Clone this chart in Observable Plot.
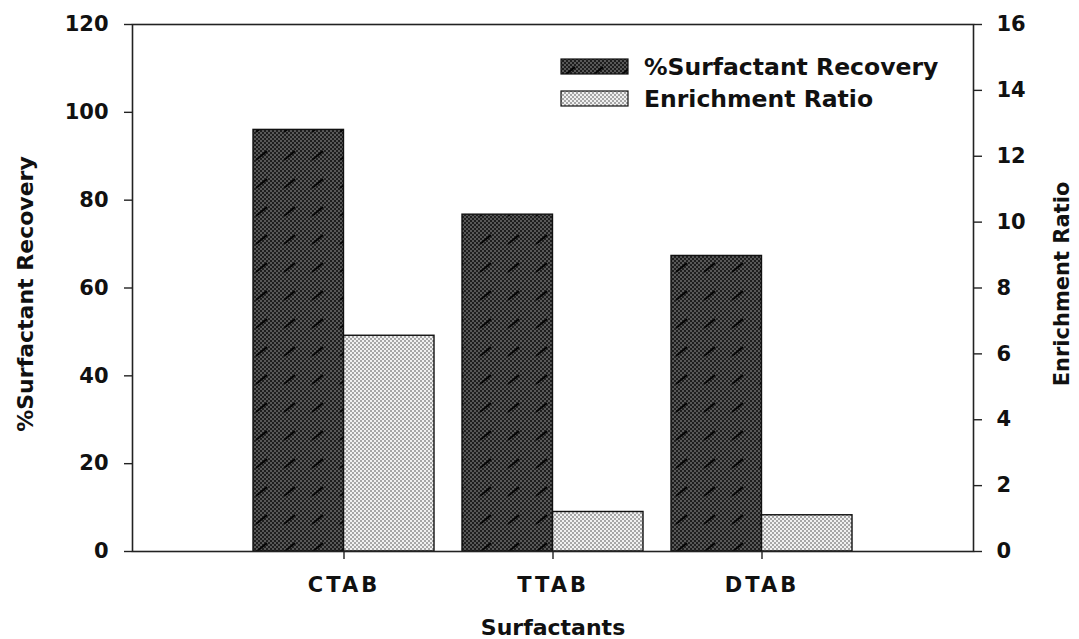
<!DOCTYPE html>
<html><head><meta charset="utf-8">
<script src="https://cdn.jsdelivr.net/npm/d3@7"></script>
<script src="https://cdn.jsdelivr.net/npm/@observablehq/plot@0.6"></script>
<style>
body{margin:0;background:#fff;}
#chart{position:relative;width:1079px;height:639px;}
</style>
</head><body><div id="chart"></div>
<script>
const categories = ["CTAB", "TTAB", "DTAB"];
const recovery = [96.0, 76.7, 67.3];
const enrichment = [6.55, 1.2, 1.1];
const leftTicks = [0, 20, 40, 60, 80, 100, 120];
const rightTicks = [0, 2, 4, 6, 8, 10, 12, 14, 16];
const seriesNames = ["%Surfactant Recovery", "Enrichment Ratio"];
const xTitle = "Surfactants";
const yLeftMax = 120, yRightMax = 16;
const ratio = yLeftMax / yRightMax;

const data = categories.map((c, i) => ({category: c, recovery: recovery[i], enrichment: enrichment[i]}));

const W = 1079, H = 639;
const mL = 132, mR = 106, mT = 24, mB = 88;
const pInner = 0.136, pOuter = 0.575;
const step = (W - mL - mR) / (categories.length - pInner + 2 * pOuter);
const half = step * (1 - pInner) / 2;
const FONT = "DejaVu Sans";

const chart = Plot.plot({
  width: W, height: H,
  marginLeft: mL, marginRight: mR, marginTop: mT, marginBottom: mB,
  style: {fontFamily: FONT, fontWeight: "bold", color: "#111", background: "#fff"},
  x: {domain: categories, paddingInner: pInner, paddingOuter: pOuter, label: null},
  y: {domain: [0, yLeftMax], label: null},
  marks: [
    Plot.barY(data, {x: "category", y: "recovery", fill: "url(#darkPat)", stroke: "#111", strokeWidth: 1.4, insetRight: half}),
    Plot.barY(data, {x: "category", y: d => d.enrichment * ratio, fill: "url(#lightPat)", stroke: "#111", strokeWidth: 1.4, insetLeft: half}),
    Plot.frame({stroke: "#222", strokeWidth: 1.6}),
    Plot.axisY(leftTicks, {anchor: "left", tickSize: 8, tickPadding: 16, fontSize: 21, label: null, stroke: "#222", strokeWidth: 1.4}),
    Plot.axisY(rightTicks.map(t => t * ratio), {anchor: "right", tickSize: 8, tickPadding: 15, fontSize: 21, label: null,
      tickFormat: d => String(Math.round(d / ratio)), stroke: "#222", strokeWidth: 1.4}),
    Plot.axisX({anchor: "bottom", tickSize: 8, tickPadding: 18, fontSize: 21, label: null, stroke: "#222", strokeWidth: 1.4}),
    Plot.text([seriesNames[0]], {frameAnchor: "left", text: d => d, rotate: -90, dx: -107, dy: 6, fontSize: 22, fontWeight: "bold", textAnchor: "middle", lineAnchor: "middle", fill: "#111"}),
    Plot.text([seriesNames[1]], {frameAnchor: "right", text: d => d, rotate: -90, dx: 89, dy: -4, fontSize: 21, fontWeight: "bold", textAnchor: "middle", lineAnchor: "middle", fill: "#111"}),
    Plot.text([xTitle], {frameAnchor: "bottom", text: d => d, dy: 76, fontSize: 22, fontWeight: "bold", textAnchor: "middle", lineAnchor: "middle", fill: "#111"})
  ]
});

const svg = d3.select(chart);
const defs = svg.insert("defs", ":first-child");
function dots(id, base, dot) {
  const p = defs.append("pattern").attr("id", id).attr("patternUnits", "userSpaceOnUse").attr("width", 4).attr("height", 4);
  p.append("rect").attr("width", 4).attr("height", 4).attr("fill", base);
  p.append("rect").attr("width", 2).attr("height", 2).attr("fill", dot);
  p.append("rect").attr("x", 2).attr("y", 2).attr("width", 2).attr("height", 2).attr("fill", dot);
}
dots("darkDots", "#1e1e1e", "#585858");
dots("lightPat", "#f0f0f0", "#a6a6a6");
const dp = defs.append("pattern").attr("id", "darkPat").attr("patternUnits", "userSpaceOnUse").attr("width", 28).attr("height", 28);
dp.append("rect").attr("width", 28).attr("height", 28).attr("fill", "url(#darkDots)");
dp.append("line").attr("x1", 4).attr("y1", 20).attr("x2", 15).attr("y2", 11).attr("stroke", "#050505").attr("stroke-width", 2);

svg.selectAll('g[aria-label="x-axis tick label"] text').attr("letter-spacing", 3);

// legend
const lg = svg.append("g").attr("font-family", FONT).attr("font-weight", "bold").attr("font-size", 23.5)
  .attr("fill", "#111").attr("text-anchor", "start");
const pats = ["url(#darkPat)", "url(#lightPat)"];
seriesNames.forEach((name, i) => {
  const y0 = 59 + i * 32;
  lg.append("rect").attr("x", 561).attr("y", y0).attr("width", 67).attr("height", 15)
    .attr("fill", pats[i]).attr("stroke", "#111").attr("stroke-width", 1.2);
  lg.append("text").attr("x", 644).attr("y", y0 + 16).attr("text-anchor", "start").text(name);
});

document.getElementById("chart").appendChild(chart);
</script>
</body></html>
